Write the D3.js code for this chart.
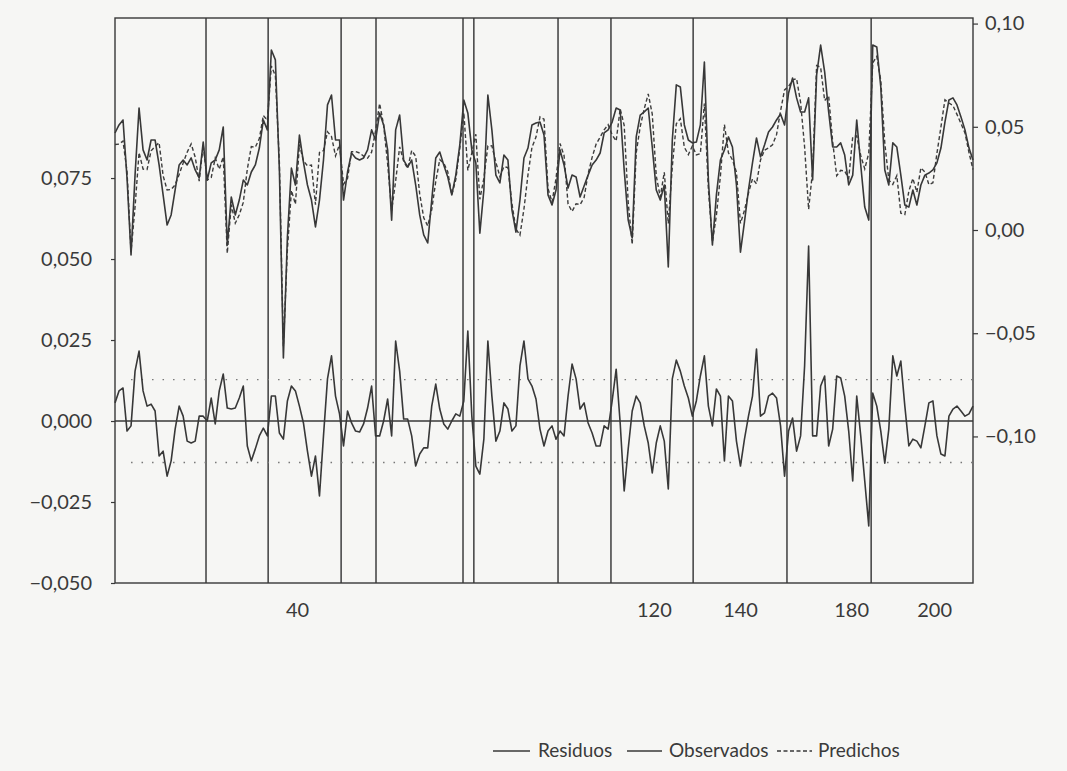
<!DOCTYPE html>
<html>
<head>
<meta charset="utf-8">
<script src="https://cdn.jsdelivr.net/npm/d3@7"></script>
<style>
  html, body { margin: 0; padding: 0; background: #f6f6f4; }
  svg { display: block; }
  text { font-family: Lato, "Open Sans", sans-serif; fill: #3a3a3a; }
</style>
</head>
<body>
<svg id="chart" width="1067" height="771"></svg>
<script>
// ---------- data (observation index 1..215) ----------
const observados = [
  0.0470, 0.0509, 0.0533, 0.0252, -0.0121, 0.0266, 0.0591, 0.0388, 0.0339, 0.0436,
  0.0436, 0.0315, 0.0170, 0.0024, 0.0073, 0.0194, 0.0315, 0.0339, 0.0315, 0.0349,
  0.0291, 0.0252, 0.0426, 0.0242, 0.0325, 0.0339, 0.0388, 0.0499, -0.0073, 0.0160,
  0.0073, 0.0145, 0.0242, 0.0218, 0.0281, 0.0315, 0.0397, 0.0533, 0.0485, 0.0872,
  0.0824, 0.0291, -0.0620, -0.0034, 0.0300, 0.0218, 0.0460, 0.0329, 0.0218, 0.0145,
  0.0015, 0.0145, 0.0339, 0.0606, 0.0654, 0.0436, 0.0436, 0.0145, 0.0281, 0.0373,
  0.0349, 0.0339, 0.0349, 0.0388, 0.0485, 0.0436, 0.0567, 0.0509, 0.0388, 0.0048,
  0.0485, 0.0557, 0.0339, 0.0305, 0.0339, 0.0218, 0.0073, -0.0024, -0.0063, 0.0145,
  0.0349, 0.0378, 0.0315, 0.0257, 0.0170, 0.0266, 0.0412, 0.0630, 0.0567, 0.0388,
  0.0325, -0.0015, 0.0194, 0.0654, 0.0485, 0.0266, 0.0228, 0.0363, 0.0339, 0.0097,
  -0.0010, 0.0145, 0.0349, 0.0397, 0.0509, 0.0518, 0.0523, 0.0460, 0.0170, 0.0121,
  0.0194, 0.0388, 0.0315, 0.0203, 0.0266, 0.0257, 0.0160, 0.0213, 0.0266, 0.0315,
  0.0339, 0.0373, 0.0470, 0.0485, 0.0523, 0.0591, 0.0581, 0.0291, 0.0048, -0.0039,
  0.0451, 0.0557, 0.0572, 0.0591, 0.0402, 0.0194, 0.0145, 0.0218, -0.0179, 0.0436,
  0.0703, 0.0693, 0.0509, 0.0436, 0.0422, 0.0426, 0.0509, 0.0814, 0.0242, -0.0073,
  0.0170, 0.0339, 0.0388, 0.0451, 0.0402, 0.0218, -0.0107, 0.0039, 0.0194, 0.0325,
  0.0446, 0.0354, 0.0412, 0.0475, 0.0499, 0.0533, 0.0562, 0.0509, 0.0664, 0.0736,
  0.0640, 0.0572, 0.0572, 0.0640, 0.0242, 0.0751, 0.0896, 0.0766, 0.0572, 0.0402,
  0.0402, 0.0422, 0.0363, 0.0218, 0.0266, 0.0533, 0.0315, 0.0111, 0.0048, 0.0896,
  0.0887, 0.0693, 0.0291, 0.0218, 0.0422, 0.0402, 0.0266, 0.0121, 0.0111, 0.0194,
  0.0121, 0.0218, 0.0266, 0.0276, 0.0291, 0.0325, 0.0397, 0.0523, 0.0630, 0.0640,
  0.0606, 0.0547, 0.0485, 0.0397, 0.0339
];
const predichos = [
  0.0414, 0.0416, 0.0431, 0.0283, -0.0106, 0.0112, 0.0375, 0.0295, 0.0293, 0.0384,
  0.0405, 0.0423, 0.0263, 0.0194, 0.0196, 0.0219, 0.0269, 0.0324, 0.0377, 0.0417,
  0.0353, 0.0237, 0.0411, 0.0242, 0.0254, 0.0348, 0.0295, 0.0354, -0.0113, 0.0123,
  0.0033, 0.0074, 0.0134, 0.0295, 0.0404, 0.0401, 0.0443, 0.0555, 0.0531, 0.0795,
  0.0747, 0.0328, -0.0564, -0.0096, 0.0192, 0.0125, 0.0414, 0.0335, 0.0311, 0.0315,
  0.0123, 0.0376, 0.0385, 0.0476, 0.0453, 0.0359, 0.0414, 0.0222, 0.0250, 0.0379,
  0.0380, 0.0373, 0.0358, 0.0348, 0.0377, 0.0482, 0.0613, 0.0509, 0.0320, 0.0094,
  0.0238, 0.0403, 0.0333, 0.0299, 0.0385, 0.0357, 0.0175, 0.0059, 0.0020, 0.0099,
  0.0235, 0.0341, 0.0324, 0.0282, 0.0170, 0.0244, 0.0397, 0.0568, 0.0289, 0.0373,
  0.0464, 0.0149, 0.0250, 0.0407, 0.0408, 0.0328, 0.0259, 0.0307, 0.0302, 0.0128,
  0.0005, -0.0025, 0.0102, 0.0267, 0.0401, 0.0450, 0.0548, 0.0537, 0.0201, 0.0136,
  0.0250, 0.0419, 0.0361, 0.0126, 0.0090, 0.0127, 0.0123, 0.0157, 0.0272, 0.0352,
  0.0416, 0.0450, 0.0485, 0.0510, 0.0461, 0.0431, 0.0587, 0.0507, 0.0134, -0.0070,
  0.0374, 0.0501, 0.0587, 0.0659, 0.0562, 0.0262, 0.0160, 0.0280, 0.0031, 0.0306,
  0.0515, 0.0539, 0.0401, 0.0365, 0.0407, 0.0364, 0.0370, 0.0613, 0.0196, -0.0058,
  0.0071, 0.0262, 0.0511, 0.0374, 0.0340, 0.0280, 0.0032, 0.0095, 0.0179, 0.0248,
  0.0224, 0.0339, 0.0387, 0.0398, 0.0413, 0.0462, 0.0577, 0.0679, 0.0695, 0.0727,
  0.0733, 0.0618, 0.0402, 0.0100, 0.0288, 0.0797, 0.0788, 0.0627, 0.0649, 0.0427,
  0.0263, 0.0289, 0.0286, 0.0249, 0.0451, 0.0456, 0.0361, 0.0296, 0.0372, 0.0810,
  0.0841, 0.0724, 0.0421, 0.0243, 0.0221, 0.0263, 0.0081, 0.0075, 0.0188, 0.0250,
  0.0183, 0.0301, 0.0281, 0.0220, 0.0229, 0.0371, 0.0499, 0.0631, 0.0615, 0.0603,
  0.0560, 0.0516, 0.0470, 0.0375, 0.0293
];
const residuos = [
  0.0056, 0.0093, 0.0102, -0.0031, -0.0015, 0.0154, 0.0216, 0.0093, 0.0046, 0.0052,
  0.0031, -0.0108, -0.0093, -0.0170, -0.0123, -0.0025, 0.0046, 0.0015, -0.0062, -0.0068,
  -0.0062, 0.0015, 0.0015, 0.0000, 0.0071, -0.0009, 0.0093, 0.0145, 0.0040, 0.0037,
  0.0040, 0.0071, 0.0108, -0.0077, -0.0123, -0.0086, -0.0046, -0.0022, -0.0046, 0.0077,
  0.0077, -0.0037, -0.0056, 0.0062, 0.0108, 0.0093, 0.0046, -0.0006, -0.0093, -0.0170,
  -0.0108, -0.0231, -0.0046, 0.0130, 0.0201, 0.0077, 0.0022, -0.0077, 0.0031, -0.0006,
  -0.0031, -0.0034, -0.0009, 0.0040, 0.0108, -0.0046, -0.0046, 0.0000, 0.0068, -0.0046,
  0.0247, 0.0154, 0.0006, 0.0006, -0.0046, -0.0139, -0.0102, -0.0083, -0.0083, 0.0046,
  0.0114, 0.0037, -0.0009, -0.0025, 0.0000, 0.0022, 0.0015, 0.0062, 0.0278, 0.0015,
  -0.0139, -0.0164, -0.0056, 0.0247, 0.0077, -0.0062, -0.0031, 0.0056, 0.0037, -0.0031,
  -0.0015, 0.0170, 0.0247, 0.0130, 0.0108, 0.0068, -0.0025, -0.0077, -0.0031, -0.0015,
  -0.0056, -0.0031, -0.0046, 0.0077, 0.0176, 0.0130, 0.0037, 0.0056, -0.0006, -0.0037,
  -0.0077, -0.0077, -0.0015, -0.0025, 0.0062, 0.0160, -0.0006, -0.0216, -0.0086, 0.0031,
  0.0077, 0.0056, -0.0015, -0.0068, -0.0160, -0.0068, -0.0015, -0.0062, -0.0210, 0.0130,
  0.0188, 0.0154, 0.0108, 0.0071, 0.0015, 0.0062, 0.0139, 0.0201, 0.0046, -0.0015,
  0.0099, 0.0077, -0.0123, 0.0077, 0.0062, -0.0062, -0.0139, -0.0056, 0.0015, 0.0077,
  0.0222, 0.0015, 0.0025, 0.0077, 0.0086, 0.0071, -0.0015, -0.0170, -0.0031, 0.0009,
  -0.0093, -0.0046, 0.0170, 0.0540, -0.0046, -0.0046, 0.0108, 0.0139, -0.0077, -0.0025,
  0.0139, 0.0133, 0.0077, -0.0031, -0.0185, 0.0077, -0.0046, -0.0185, -0.0324, 0.0086,
  0.0046, -0.0031, -0.0130, -0.0025, 0.0201, 0.0139, 0.0185, 0.0046, -0.0077, -0.0056,
  -0.0062, -0.0083, -0.0015, 0.0056, 0.0062, -0.0046, -0.0102, -0.0108, 0.0015, 0.0037,
  0.0046, 0.0031, 0.0015, 0.0022, 0.0046
];
// vertical marker lines (observation positions)
const breakPoints = [23.7, 39.2, 57.4, 66.1, 87.8, 90.5, 111.5, 124.7, 145.2, 168.6, 189.6];
// x-axis tick positions and the labels printed there
const xTickPos = [46.4, 135.4, 156.9, 184.6, 205.3];
const xTickLabels = ["40", "120", "140", "180", "200"];
const leftTicks = [-0.05, -0.025, 0, 0.025, 0.05, 0.075];
const rightTicks = [-0.10, -0.05, 0, 0.05, 0.10];
const residualBand = [-0.0128, 0.0128];
const legendLabels = ["Residuos", "Observados", "Predichos"];

// ---------- drawing ----------
const svg = d3.select("#chart");
const L = 115, R = 973, T = 18, B = 583;
const ink = "#383838";

const x = d3.scaleLinear().domain([1, observados.length]).range([L, R]);
const yL = d3.scaleLinear().domain([-0.05, 0.1244]).range([B, T]);
const yR = d3.scaleLinear().domain([-0.171, 0.1027]).range([B, T]);

const loc = d3.formatLocale({decimal: ",", thousands: ".", grouping: [3], currency: ["", ""], minus: "\u2212"});
const fmtL = loc.format(".3f");
const fmtR = loc.format(".2f");

// vertical lines
svg.append("g").selectAll("line").data(breakPoints).join("line")
  .attr("x1", d => x(d)).attr("x2", d => x(d))
  .attr("y1", T).attr("y2", B)
  .attr("stroke", "#4a4a4a").attr("stroke-width", 1.6);

// frame
svg.append("rect").attr("x", L).attr("y", T).attr("width", R - L).attr("height", B - T)
  .attr("fill", "none").attr("stroke", ink).attr("stroke-width", 1.4);

// residual zero line
svg.append("line").attr("x1", L).attr("x2", R).attr("y1", yL(0)).attr("y2", yL(0))
  .attr("stroke", ink).attr("stroke-width", 1.3);

// +/- band dotted
svg.append("g").selectAll("line").data(residualBand).join("line")
  .attr("x1", x(5)).attr("x2", R).attr("y1", d => yL(d)).attr("y2", d => yL(d))
  .attr("stroke", "#777").attr("stroke-width", 1.3).attr("stroke-dasharray", "1.5,9");

const idx = d3.range(observados.length);
const lineR = arr => d3.line().x(i => x(i + 1)).y(i => yR(arr[i]))(idx);
const lineL = arr => d3.line().x(i => x(i + 1)).y(i => yL(arr[i]))(idx);

svg.append("path").attr("d", lineR(predichos)).attr("fill", "none")
  .attr("stroke", "#3c3c3c").attr("stroke-width", 1.4).attr("stroke-dasharray", "4,2.5");
svg.append("path").attr("d", lineR(observados)).attr("fill", "none")
  .attr("stroke", ink).attr("stroke-width", 1.6).attr("stroke-linejoin", "round");
svg.append("path").attr("d", lineL(residuos)).attr("fill", "none")
  .attr("stroke", ink).attr("stroke-width", 1.6).attr("stroke-linejoin", "round");

// axes
const axL = svg.append("g").attr("transform", `translate(${L},0)`)
  .call(d3.axisLeft(yL).tickValues(leftTicks).tickFormat(fmtL).tickSize(4).tickPadding(19));
const axR = svg.append("g").attr("transform", `translate(${R},0)`)
  .call(d3.axisRight(yR).tickValues(rightTicks).tickFormat(fmtR).tickSize(5).tickPadding(7));
const axB = svg.append("g").attr("transform", `translate(0,${B})`)
  .call(d3.axisBottom(x).tickValues(xTickPos).tickFormat((d, i) => xTickLabels[i]).tickSize(0).tickPadding(20));
[axL, axR, axB].forEach(g => {
  g.select(".domain").remove();
  g.selectAll("line").attr("stroke", ink).attr("stroke-width", 1.2);
  g.selectAll("text").attr("font-family", "Lato, sans-serif").attr("font-size", 20).attr("fill", "#3a3a3a");
});

// legend
const legend = [
  {label: legendLabels[0], x0: 493, x1: 530, tx: 538, dash: null},
  {label: legendLabels[1], x0: 627, x1: 662, tx: 669, dash: null},
  {label: legendLabels[2], x0: 777, x1: 812, tx: 818, dash: "4,2.5"}
];
const lg = svg.append("g");
legend.forEach(d => {
  lg.append("line").attr("x1", d.x0).attr("x2", d.x1).attr("y1", 751).attr("y2", 751)
    .attr("stroke", ink).attr("stroke-width", 1.4).attr("stroke-dasharray", d.dash);
  lg.append("text").attr("x", d.tx).attr("y", 757).attr("font-size", 19).text(d.label);
});
</script>
</body>
</html>
